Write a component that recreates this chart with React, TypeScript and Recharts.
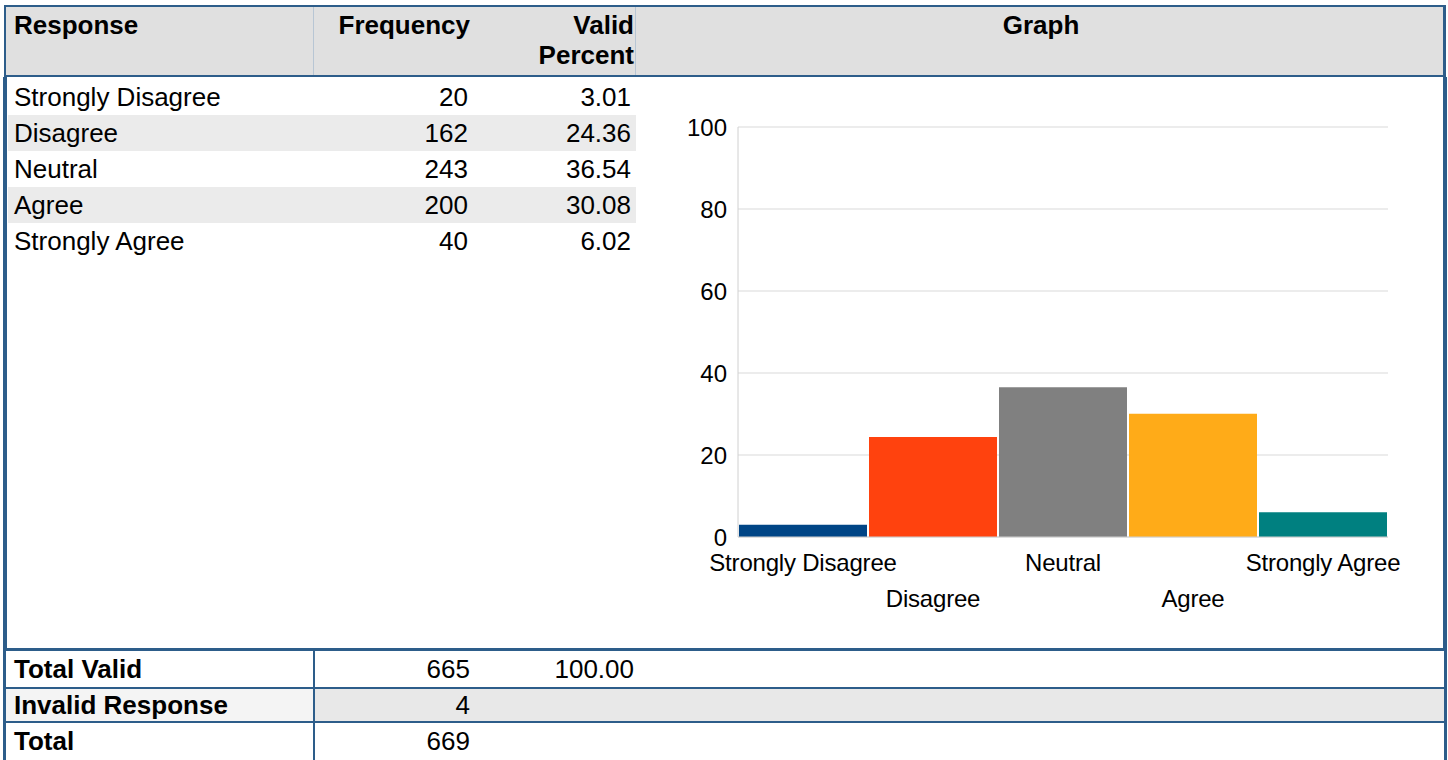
import { BarChart, Bar, XAxis, YAxis, CartesianGrid, Cell } from "recharts";

const categories = ["Strongly Disagree", "Disagree", "Neutral", "Agree", "Strongly Agree"];
const frequencies = [20, 162, 243, 200, 40];
const validPercents = [3.01, 24.36, 36.54, 30.08, 6.02];
const barColors = ["#004586", "#ff420e", "#808080", "#ffab18", "#008080"];
const yTicks = [0, 20, 40, 60, 80, 100];

const totalValid = 665;
const totalValidPercent = "100.00";
const invalidCount = 4;
const grandTotal = 669;

const chartData = categories.map((name, i) => ({ name, percent: validPercents[i] }));

const BLUE = "#2d5d8a";
const FONT = '"Liberation Sans", Arial, sans-serif';
const FS = 26;

function XTick(props: any) {
  const { x, y, payload, index } = props;
  return (
    <text
      x={x}
      y={y + (index % 2 ? 56 : 20)}
      textAnchor="middle"
      dominantBaseline="middle"
      fontSize={24}
      letterSpacing={-0.2}
      fill="#000"
    >
      {payload.value}
    </text>
  );
}

const abs = (l: number, t: number, w: number, h: number, extra: any = {}) => ({
  position: "absolute" as const,
  left: l,
  top: t,
  width: w,
  height: h,
  ...extra,
});

export default function App() {
  return (
    <div style={abs(0, 0, 1448, 760, { fontFamily: FONT, color: "#000", background: "#fff", overflow: "hidden" })}>
      {/* header */}
      <div style={abs(4, 5, 1442, 72, { background: "#e0e0e0", borderTop: `2px solid ${BLUE}`, borderBottom: `2px solid ${BLUE}`, boxSizing: "border-box" })} />
      <div style={abs(4, 5, 2, 72, { background: BLUE })} />
      <div style={abs(1443, 5, 3, 72, { background: BLUE })} />
      <div style={abs(313, 7, 1, 68, { background: "#b8c6d4" })} />
      <div style={abs(635, 7, 1, 68, { background: "#b8c6d4" })} />
      <div style={abs(14, 10, 290, 30, { fontWeight: "bold", fontSize: FS, lineHeight: "30px" })}>Response</div>
      <div style={abs(314, 10, 156, 30, { fontWeight: "bold", fontSize: FS, lineHeight: "30px", textAlign: "right" })}>Frequency</div>
      <div style={abs(480, 10, 154, 60, { fontWeight: "bold", fontSize: FS, lineHeight: "30px", textAlign: "right" })}>
        Valid<br />Percent
      </div>
      <div style={abs(636, 10, 810, 30, { fontWeight: "bold", fontSize: FS, lineHeight: "30px", textAlign: "center" })}>Graph</div>

      {/* body */}
      <div style={abs(3, 77, 4, 572, { background: BLUE })} />
      <div style={abs(1443, 77, 4, 572, { background: BLUE })} />
      {categories.map((c, i) => (
        <div key={c} style={abs(8, 79 + i * 36, 628, 36, { background: i % 2 ? "#ebebeb" : "#fff", fontSize: FS, lineHeight: "36px" })}>
          <span style={{ position: "absolute", left: 6 }}>{c}</span>
          <span style={{ position: "absolute", right: 168 }}>{frequencies[i]}</span>
          <span style={{ position: "absolute", right: 5 }}>{validPercents[i].toFixed(2)}</span>
        </div>
      ))}

      <div style={abs(640, 100, 800, 540)}>
        <BarChart
          width={800}
          height={540}
          data={chartData}
          margin={{ top: 27, right: 52, left: 38, bottom: 23 }}
          barCategoryGap={1}
          style={{ fontFamily: FONT }}
        >
          <CartesianGrid vertical={false} stroke="#d9d9d9" />
          <XAxis
            dataKey="name"
            height={80}
            interval={0}
            tickLine={false}
            axisLine={{ stroke: "#d0d0d0" }}
            tick={<XTick />}
          />
          <YAxis
            width={60}
            domain={[0, 100]}
            ticks={yTicks}
            tickLine={false}
            tickMargin={5}
            axisLine={{ stroke: "#d0d0d0" }}
            tick={{ fill: "#000", fontSize: 24 }}
          />
          <Bar dataKey="percent" isAnimationActive={false}>
            {chartData.map((d, i) => (
              <Cell key={d.name} fill={barColors[i]} />
            ))}
          </Bar>
        </BarChart>
      </div>

      {/* totals */}
      <div style={abs(3, 648, 1444, 3, { background: BLUE })} />
      <div style={abs(3, 651, 1444, 36, { fontSize: FS, lineHeight: "36px" })}>
        <span style={{ position: "absolute", left: 11, fontWeight: "bold" }}>Total Valid</span>
        <span style={{ position: "absolute", right: 1447 - 470 }}>{totalValid}</span>
        <span style={{ position: "absolute", right: 1447 - 634 }}>{totalValidPercent}</span>
      </div>
      <div style={abs(3, 687, 1444, 2, { background: BLUE })} />
      <div style={abs(6, 689, 307, 32, { background: "#f4f4f4" })} />
      <div style={abs(314, 689, 1130, 32, { background: "#e8e8e8" })} />
      <div style={abs(3, 689, 1444, 32, { fontSize: FS, lineHeight: "32px" })}>
        <span style={{ position: "absolute", left: 11, fontWeight: "bold" }}>Invalid Response</span>
        <span style={{ position: "absolute", right: 1447 - 470 }}>{invalidCount}</span>
      </div>
      <div style={abs(3, 721, 1444, 2, { background: BLUE })} />
      <div style={abs(3, 723, 1444, 37, { fontSize: FS, lineHeight: "36px" })}>
        <span style={{ position: "absolute", left: 11, fontWeight: "bold" }}>Total</span>
        <span style={{ position: "absolute", right: 1447 - 470 }}>{grandTotal}</span>
      </div>
      <div style={abs(3, 651, 3, 109, { background: BLUE })} />
      <div style={abs(1444, 651, 3, 109, { background: BLUE })} />
      <div style={abs(313, 651, 2, 109, { background: BLUE })} />
    </div>
  );
}
